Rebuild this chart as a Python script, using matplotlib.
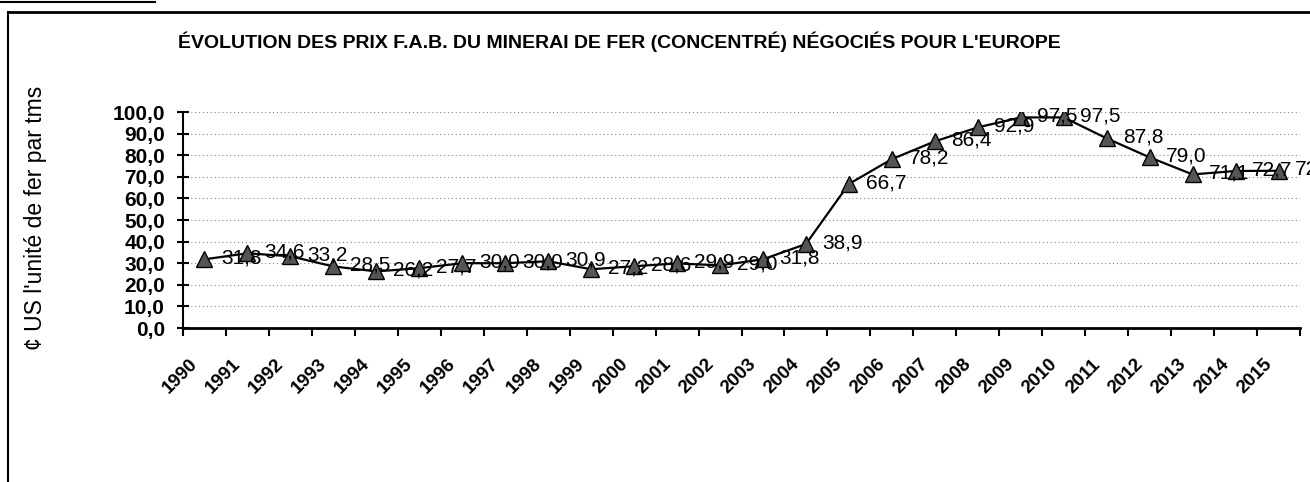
from matplotlib import pyplot as plt
from matplotlib.lines import Line2D
from matplotlib.transforms import ScaledTranslation
import numpy as np

# data
years = [str(y) for y in range(1990, 2016)]
prix = [31.8, 34.6, 33.2, 28.5, 26.2, 27.7, 30.0, 30.0, 30.9, 27.2,
        28.6, 29.9, 29.0, 31.8, 38.9, 66.7, 78.2, 86.4, 92.9, 97.5,
        97.5, 87.8, 79.0, 71.1, 72.7, 72.8]
y_ticks = [0, 10, 20, 30, 40, 50, 60, 70, 80, 90, 100]
y_tick_labels = ['0,0', '10,0', '20,0', '30,0', '40,0', '50,0', '60,0',
                 '70,0', '80,0', '90,0', '100,0']

plt.rcParams['font.family'] = ['Liberation Sans', 'DejaVu Sans']

fig = plt.figure(figsize=(13.1, 4.82), dpi=100)
ax = fig.add_axes([0.1397, 0.3195, 0.8527, 0.4481])

x = np.arange(len(years))
ax.plot(x, prix, color='black', linewidth=1.6, marker='^', markersize=11,
        markerfacecolor='#555555', markeredgecolor='black', markeredgewidth=1.0)

# data labels, right of each point
for xi, v in zip(x, prix):
    ax.annotate(f'{v:.1f}'.replace('.', ','), (xi, v), xytext=(12, 1),
                textcoords='offset points', ha='left', va='center',
                fontsize=15, color='black')

# dotted grid
for yv in y_ticks[1:]:
    ax.axhline(yv, color='#888888', linestyle=(0, (1, 2.5)), linewidth=0.8, zorder=0)

ax.set_xlim(-0.5, len(years) - 0.5)
ax.set_ylim(0, 100)

ax.set_yticks(y_ticks)
ax.set_yticklabels(y_tick_labels, fontsize=15, fontweight='bold')
ax.tick_params(axis='y', direction='inout', length=8, width=1.5, pad=9)

ax.set_xticks(x)
ax.set_xticklabels(years, fontsize=13.5, fontweight='bold', rotation=45,
                   ha='right', rotation_mode='anchor')
ax.tick_params(axis='x', which='major', length=0, pad=20)
shift = ScaledTranslation(-15 / 100, 0, fig.dpi_scale_trans)
for lab in ax.get_xticklabels():
    lab.set_transform(lab.get_transform() + shift)
ax.set_xticks(np.arange(-0.5, len(years)), minor=True)
ax.tick_params(axis='x', which='minor', direction='out', length=6, width=1.5)

for side in ['top', 'right']:
    ax.spines[side].set_visible(False)
ax.spines['left'].set_linewidth(1.5)
ax.spines['bottom'].set_linewidth(2)

fig.text(0.473, 0.913, "ÉVOLUTION DES PRIX F.A.B. DU MINERAI DE FER (CONCENTRÉ) NÉGOCIÉS POUR L'EUROPE",
         ha='center', va='center', fontsize=14, fontweight='bold')
fig.text(0.027, 0.548, "¢ US l'unité de fer par tms", rotation=90,
         ha='center', va='center', fontsize=16.5)

# document frame
fig.add_artist(Line2D([8 / 1310, 8 / 1310], [0, 1 - 12 / 482], color='black', linewidth=1.5))
fig.add_artist(Line2D([8 / 1310, 1], [1 - 12 / 482, 1 - 12 / 482], color='black', linewidth=2))
fig.add_artist(Line2D([0, 155 / 1310], [1 - 2 / 482, 1 - 2 / 482], color='black', linewidth=1.5))

plt.savefig('out.png', dpi=100)
